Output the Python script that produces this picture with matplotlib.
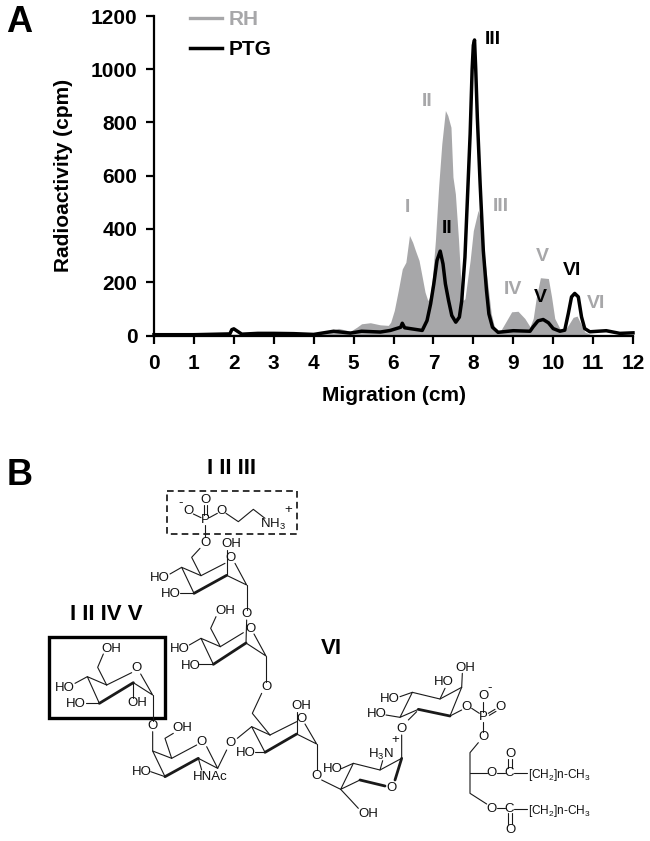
import matplotlib
matplotlib.use("Agg")
import matplotlib.pyplot as plt
from matplotlib.patches import Rectangle

plt.rcParams['font.family'] = ['Liberation Sans', 'DejaVu Sans']
plt.rcParams['mathtext.default'] = 'regular'

# ---- data ----
rh_x = [0, 1, 2, 3, 4, 4.33, 4.62, 4.92, 5.08, 5.2, 5.42, 5.67, 5.87, 5.93, 6.02, 6.12, 6.22, 6.31, 6.40, 6.48,
        6.55, 6.64, 6.72, 6.79, 6.86, 6.91, 6.97, 7.05, 7.13, 7.21, 7.30, 7.36, 7.44, 7.49, 7.55, 7.63, 7.69,
        7.74, 7.79, 7.92, 8.0, 8.12, 8.21, 8.29, 8.37, 8.45, 8.54, 8.66, 8.79, 8.96, 9.12, 9.29, 9.42, 9.5,
        9.58, 9.68, 9.88, 9.96, 10.04, 10.17, 10.29, 10.38, 10.5, 10.6, 10.71, 10.79, 10.92, 11.1, 12]
rh_y = [3, 3, 5, 5, 5, 13, 27, 16, 31, 44, 48, 40, 38, 50, 94, 169, 250, 275, 376, 350,
        319, 282, 219, 163, 131, 144, 207, 357, 557, 720, 845, 826, 782, 595, 532, 357, 194,
        131, 138, 282, 394, 470, 419, 282, 182, 81, 25, 12, 45, 89, 91, 64, 33, 64,
        145, 217, 214, 145, 64, 26, 20, 39, 68, 73, 39, 14, 5, 3, 3]
ptg_x = [0, 1, 1.9, 1.95, 2.0, 2.1, 2.2, 2.6, 3, 3.5, 4, 4.5, 4.92, 5.2, 5.67, 5.92, 6.18, 6.22, 6.28, 6.72, 6.84,
         6.93, 7.01, 7.09, 7.17, 7.24, 7.30, 7.38, 7.46, 7.56, 7.65, 7.71, 7.79, 7.85, 7.92, 7.97, 8.0, 8.03,
         8.06, 8.10, 8.17, 8.25, 8.33, 8.39, 8.48, 8.62, 9.0, 9.42, 9.5, 9.62, 9.75, 9.88, 10.0, 10.17,
         10.29, 10.38, 10.46, 10.54, 10.63, 10.71, 10.79, 10.92, 11.33, 11.67, 12]
ptg_y = [3, 3, 6, 22, 25, 15, 5, 8, 8, 7, 4, 16, 9, 16, 13, 19, 31, 46, 29, 19, 56,
         119, 194, 282, 317, 269, 194, 131, 75, 50, 69, 131, 294, 507, 757, 1000, 1090, 1110,
         1000, 820, 570, 319, 169, 81, 31, 12, 18, 16, 33, 55, 60, 48, 26, 16,
         20, 83, 145, 158, 145, 70, 26, 14, 18, 8, 10]
x_ticks = list(range(0, 13))
y_ticks = [0, 200, 400, 600, 800, 1000, 1200]
series_names = ['RH', 'PTG']
rh_peak_names = ['I', 'II', 'III', 'IV', 'V', 'VI']
rh_peak_x = [6.35, 6.85, 8.69, 8.99, 9.73, 11.07]
rh_peak_y = [480, 880, 486, 171, 296, 121]
ptg_peak_names = ['II', 'III', 'V', 'VI']
ptg_peak_x = [7.34, 8.48, 9.69, 10.47]
ptg_peak_y = [403, 1110, 143, 246]

GRAY = '#a7a7a9'
W, H = 650, 841
fig = plt.figure(figsize=(W / 100, H / 100), dpi=100)

# ---- panel A ----
L, R, T, B = 154, 633, 16, 335.5
ax = fig.add_axes([L / W, 1 - B / H, (R - L) / W, (B - T) / H])
ax.fill_between(rh_x, 0, rh_y, color=GRAY, lw=0)
ax.plot([], [], color=GRAY, lw=2.4, label=series_names[0])
ax.plot(ptg_x, ptg_y, color='black', lw=2.5, label=series_names[1], clip_on=False, solid_joinstyle='round')
ax.set_xlim(0, 12)
ax.set_ylim(0, 1200)
for s in ('top', 'right'):
    ax.spines[s].set_visible(False)
for s in ('left', 'bottom'):
    ax.spines[s].set_linewidth(1.6)
ax.set_xticks(x_ticks)
ax.set_yticks(y_ticks)
ax.tick_params(axis='y', length=5.5, width=1.6, pad=6.5)
ax.tick_params(axis='x', length=5.5, width=1.6, pad=8)
for t in ax.get_xticklabels() + ax.get_yticklabels():
    t.set_fontsize(15)
    t.set_fontweight('bold')
ax.set_xlabel('Migration (cm)', fontsize=15, fontweight='bold', labelpad=9)
ax.set_ylabel('Radioactivity (cpm)', fontsize=15, fontweight='bold', labelpad=13)
leg = ax.legend(loc='upper left', bbox_to_anchor=(190 / W, 1 - 10 / H), bbox_transform=fig.transFigure,
                frameon=False, handlelength=1.55, handletextpad=0.3, labelspacing=0.55, borderpad=0,
                borderaxespad=0, prop={'size': 15, 'weight': 'bold'})
leg.get_texts()[0].set_color(GRAY)
for n, px, py in zip(rh_peak_names, rh_peak_x, rh_peak_y):
    ax.text(px, py, n, color=GRAY, fontsize=14, fontweight='bold', ha='center', va='center')
for n, px, py in zip(ptg_peak_names, ptg_peak_x, ptg_peak_y):
    ax.text(px, py, n, color='black', fontsize=14, fontweight='bold', ha='center', va='center')

# ---- overlay: panel letters and panel B structure (coordinates in 3x crop pixels) ----
ov = fig.add_axes([0, 0, 1, 1])
ov.set_xlim(0, W)
ov.set_ylim(H, 0)
ov.axis('off')
ov.patch.set_alpha(0)
ov.text(19, 22, 'A', fontsize=26, fontweight='bold', ha='center', va='center')
ov.text(20, 475, 'B', fontsize=26, fontweight='bold', ha='center', va='center')

def a(x, y):   # left crop -> figure pixels
    return x / 3, 450 + y / 3
def b(x, y):   # right crop -> figure pixels
    return 300 + x / 3, 600 + y / 3

left_paths = [
    [(612, 165), (612, 195)], [(620, 165), (620, 195)], [(580, 192), (603, 203)], [(628, 203), (652, 190)],
    [(678, 190), (715, 215), (760, 178), (795, 205)], [(616, 225), (616, 262)],
    [(600, 295), (575, 322), (603, 377), (675, 340)], [(705, 340), (740, 405), (680, 376)],
    [(582, 430), (545, 352), (603, 377)], [(510, 372), (545, 352)], [(540, 430), (582, 430)],
    [(680, 376), (680, 300)], [(740, 405), (740, 480)],
    [(740, 510), (738, 579)], [(661, 590), (730, 548)], [(762, 552), (798, 618), (738, 579)],
    [(640, 643), (603, 565), (661, 590)], [(568, 585), (603, 565)], [(598, 643), (640, 643)],
    [(661, 590), (632, 535), (648, 500)], [(798, 618), (798, 695)],
    [(785, 730), (757, 790), (810, 855)],
    [(810, 855), (890, 815)], [(915, 822), (950, 882), (890, 852)], [(795, 907), (755, 830), (810, 855)],
    [(765, 907), (795, 907)], [(890, 852), (890, 785)], [(712, 865), (755, 830)], [(950, 882), (950, 960)],
    [(320, 705), (395, 668)], [(422, 672), (458, 735), (400, 698)], [(298, 760), (262, 680), (320, 705)],
    [(320, 705), (293, 652), (310, 612)], [(225, 700), (262, 680)], [(258, 760), (298, 760)],
    [(400, 698), (400, 745)], [(458, 735), (458, 812)],
    [(458, 845), (458, 903), (515, 925), (590, 885)], [(620, 890), (653, 955), (595, 925), (605, 960)],
    [(495, 980), (458, 903)], [(515, 925), (495, 865), (520, 850)], [(452, 965), (495, 980)], [(653, 955), (680, 900)],
]
left_thick = [[(680, 376), (582, 430)], [(738, 579), (640, 643)], [(890, 852), (795, 907)],
              [(400, 698), (298, 760)], [(595, 925), (495, 980)]]
left_labels = [('O', 616, 150), ('P', 616, 210), ('O', 566, 183), ('O', 665, 183), ('-', 543, 160), ('O', 616, 278),
               ('OH', 693, 282), ('O', 692, 325), ('HO', 480, 385), ('HO', 512, 433), ('O', 740, 493),
               ('OH', 675, 483), ('O', 750, 538), ('HO', 538, 598), ('HO', 571, 647), ('O', 798, 712),
               ('OH', 903, 768), ('O', 905, 808), ('HO', 738, 910), ('O', 693, 880), ('O', 948, 977),
               ('OH', 333, 598), ('O', 410, 655), ('HO', 195, 713), ('HO', 228, 762), ('OH', 413, 760),
               ('O', 458, 828), ('OH', 548, 835), ('O', 605, 875), ('HO', 426, 965), ('HNAc', 630, 982),
               (r'NH$_3$', 820, 222), ('+', 866, 180)]

right_paths = [
    [(485, 262), (487, 220)], [(420, 297), (435, 265)], [(485, 262), (420, 297), (337, 277), (300, 352), (355, 328)],
    [(450, 348), (485, 262)], [(300, 290), (337, 277)], [(258, 345), (300, 352)], [(350, 335), (325, 360)],
    [(450, 348), (485, 330)], [(515, 325), (538, 340)], [(550, 305), (550, 335)], [(565, 340), (585, 328)],
    [(568, 346), (588, 334)], [(550, 365), (550, 395)], [(535, 428), (510, 458), (510, 580), (560, 612)],
    [(510, 520), (560, 520)], [(590, 520), (615, 520)], [(625, 478), (625, 505)], [(635, 478), (635, 505)],
    [(642, 520), (680, 520)], [(590, 625), (615, 625)], [(642, 627), (680, 627)], [(625, 640), (625, 672)],
    [(635, 640), (635, 672)],
    [(305, 405), (305, 475), (240, 510), (160, 490), (122, 568), (180, 540)], [(240, 510), (248, 482)],
    [(122, 568), (152, 600), (175, 625)], [(124, 506), (160, 490)], [(65, 540), (122, 568)],
]
right_thick = [[(355, 328), (450, 348)], [(180, 540), (255, 558)], [(285, 540), (305, 475)]]
right_labels = [('OH', 497, 203), ('HO', 432, 247), ('HO', 270, 297), ('HO', 230, 343), ('O', 305, 387), ('O', 500, 320),
                ('P', 550, 350), ('O', 550, 288), ('-', 570, 265), ('O', 600, 320), ('O', 550, 412),
                ('O', 575, 520), ('C', 628, 520), ('O', 630, 462), ('O', 575, 627), ('C', 628, 627), ('O', 630, 690),
                (r'H$_3$N', 244, 464), ('+', 286, 420), ('HO', 98, 508), ('OH', 205, 643), ('O', 275, 563)]
for paths, f, lw in [(left_paths, a, 0.8), (right_paths, b, 0.8), (left_thick, a, 2.0), (right_thick, b, 2.0)]:
    for p in paths:
        pts = [f(*q) for q in p]
        ov.plot([q[0] for q in pts], [q[1] for q in pts], color='#1a1a1a', lw=lw, solid_capstyle='round')
for labels, f in [(left_labels, a), (right_labels, b)]:
    for s, x, y in labels:
        px, py = f(x, y)
        ov.text(px, py, s, fontsize=9.5, ha='center', va='center', color='#111111', zorder=3)
for y in (525, 632):
    px, py = b(683, y)
    ov.text(px, py, r'[CH$_2$]n-CH$_3$', fontsize=8.6, ha='left', va='center', color='#111111')

x0, y0 = a(500, 122); x1, y1 = a(890, 253)
ov.add_patch(Rectangle((x0, y0), x1 - x0, y1 - y0, fill=False, ec='#111111', lw=1.2, ls=(0, (4, 2.5))))
x0, y0 = a(147, 560); x1, y1 = a(495, 803)
ov.add_patch(Rectangle((x0, y0), x1 - x0, y1 - y0, fill=False, ec='black', lw=2.4))
for s, (px, py) in [('I II III', a(695, 55)), ('I II IV V', a(318, 492)), ('VI', b(93, 145))]:
    ov.text(px, py, s, fontsize=16, fontweight='bold', ha='center', va='center')

fig.savefig('out.png', dpi=100)
